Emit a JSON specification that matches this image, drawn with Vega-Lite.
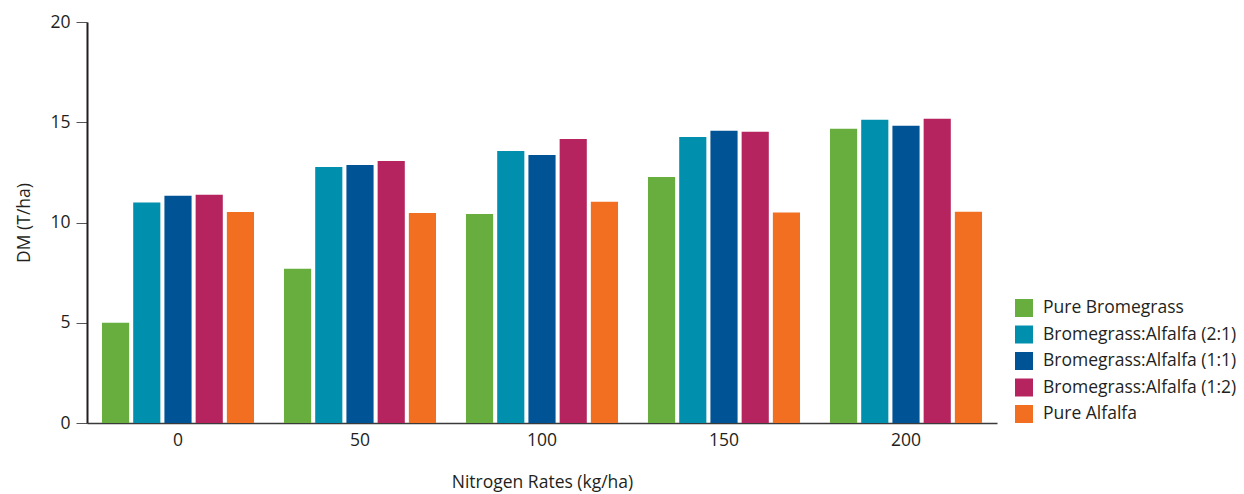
{
  "$schema": "https://vega.github.io/schema/vega-lite/v6.json",
  "width": 910,
  "height": 401,
  "autosize": {"type": "none"},
  "padding": {"left": 87, "top": 22, "right": 247, "bottom": 71},
  "background": "white",
  "config": {
    "view": {"stroke": null},
    "font": "Open Sans",
    "axis": {"labelFont": "Open Sans", "titleFont": "Open Sans", "labelColor": "#231f20", "titleColor": "#231f20", "grid": false},
    "legend": {"labelFont": "Open Sans"}
  },
  "data": {
    "values": [
      {"rate": "0", "type": "Pure Bromegrass", "dm": 5.0},
      {"rate": "0", "type": "Bromegrass:Alfalfa (2:1)", "dm": 11.0},
      {"rate": "0", "type": "Bromegrass:Alfalfa (1:1)", "dm": 11.33},
      {"rate": "0", "type": "Bromegrass:Alfalfa (1:2)", "dm": 11.38},
      {"rate": "0", "type": "Pure Alfalfa", "dm": 10.52},
      {"rate": "50", "type": "Pure Bromegrass", "dm": 7.69},
      {"rate": "50", "type": "Bromegrass:Alfalfa (2:1)", "dm": 12.77},
      {"rate": "50", "type": "Bromegrass:Alfalfa (1:1)", "dm": 12.87},
      {"rate": "50", "type": "Bromegrass:Alfalfa (1:2)", "dm": 13.07},
      {"rate": "50", "type": "Pure Alfalfa", "dm": 10.48},
      {"rate": "100", "type": "Pure Bromegrass", "dm": 10.43},
      {"rate": "100", "type": "Bromegrass:Alfalfa (2:1)", "dm": 13.57},
      {"rate": "100", "type": "Bromegrass:Alfalfa (1:1)", "dm": 13.37},
      {"rate": "100", "type": "Bromegrass:Alfalfa (1:2)", "dm": 14.17},
      {"rate": "100", "type": "Pure Alfalfa", "dm": 11.03},
      {"rate": "150", "type": "Pure Bromegrass", "dm": 12.27},
      {"rate": "150", "type": "Bromegrass:Alfalfa (2:1)", "dm": 14.27},
      {"rate": "150", "type": "Bromegrass:Alfalfa (1:1)", "dm": 14.57},
      {"rate": "150", "type": "Bromegrass:Alfalfa (1:2)", "dm": 14.52},
      {"rate": "150", "type": "Pure Alfalfa", "dm": 10.5},
      {"rate": "200", "type": "Pure Bromegrass", "dm": 14.67},
      {"rate": "200", "type": "Bromegrass:Alfalfa (2:1)", "dm": 15.12},
      {"rate": "200", "type": "Bromegrass:Alfalfa (1:1)", "dm": 14.82},
      {"rate": "200", "type": "Bromegrass:Alfalfa (1:2)", "dm": 15.17},
      {"rate": "200", "type": "Pure Alfalfa", "dm": 10.53}
    ]
  },
  "mark": {"type": "bar"},
  "encoding": {
    "x": {
      "field": "rate",
      "type": "nominal",
      "sort": ["0", "50", "100", "150", "200"],
      "scale": {"paddingInner": 0, "paddingOuter": 0},
      "axis": {
        "title": "Nitrogen Rates (kg/ha)",
        "titleFontSize": 17.5,
        "titleFontWeight": "normal",
        "titlePadding": 25,
        "labelAngle": 0,
        "labelFontSize": 17.5,
        "labelPadding": 8,
        "ticks": false,
        "domainColor": "#3a3a3a",
        "domainWidth": 1.5
      }
    },
    "xOffset": {
      "field": "type",
      "type": "nominal",
      "sort": ["Pure Bromegrass", "Bromegrass:Alfalfa (2:1)", "Bromegrass:Alfalfa (1:1)", "Bromegrass:Alfalfa (1:2)", "Pure Alfalfa"],
      "scale": {"paddingInner": 0.13, "paddingOuter": 0.48}
    },
    "y": {
      "field": "dm",
      "type": "quantitative",
      "scale": {"domain": [0, 20]},
      "axis": {
        "title": "DM (T/ha)",
        "titleFontSize": 17.5,
        "titleFontWeight": "normal",
        "titlePadding": 16,
        "values": [0, 5, 10, 15, 20],
        "labelFontSize": 17.5,
        "labelPadding": 6,
        "tickSize": 11,
        "tickColor": "#555555",
        "domainColor": "#231f20",
        "domainWidth": 2
      }
    },
    "color": {
      "field": "type",
      "type": "nominal",
      "sort": ["Pure Bromegrass", "Bromegrass:Alfalfa (2:1)", "Bromegrass:Alfalfa (1:1)", "Bromegrass:Alfalfa (1:2)", "Pure Alfalfa"],
      "scale": {
        "domain": ["Pure Bromegrass", "Bromegrass:Alfalfa (2:1)", "Bromegrass:Alfalfa (1:1)", "Bromegrass:Alfalfa (1:2)", "Pure Alfalfa"],
        "range": ["#68ae3e", "#0090ae", "#005495", "#b5245e", "#f26f22"]
      },
      "legend": {
        "title": null,
        "orient": "none",
        "legendX": 928,
        "legendY": 277,
        "symbolType": "square",
        "symbolSize": 324,
        "symbolStrokeWidth": 0,
        "symbolOpacity": 1,
        "labelFontSize": 17.5,
        "labelColor": "#231f20",
        "labelOffset": 10,
        "rowPadding": 8.5,
        "labelLimit": 300
      }
    }
  }
}
